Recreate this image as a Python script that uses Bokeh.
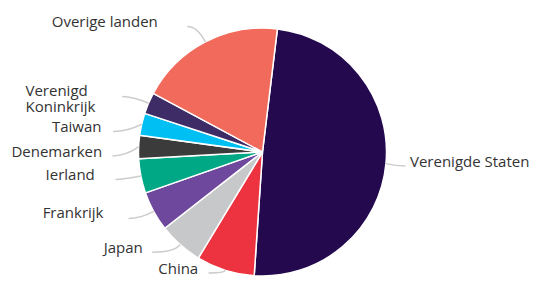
import math
from bokeh.plotting import figure
from bokeh.models import Range1d, ColumnDataSource
from bokeh.embed import file_html
from bokeh.resources import INLINE
from bokeh.core.properties import value

# ---- data ----
countries = ["Verenigde Staten", "China", "Japan", "Frankrijk", "Ierland",
             "Denemarken", "Taiwan", "Verenigd Koninkrijk", "Overige landen"]
shares = [49.2, 7.6, 5.8, 5.2, 4.5, 3.0, 2.9, 2.8, 19.1]
colors = ["#24094e", "#ee3340", "#c7c8c9", "#6e489d", "#00a886",
          "#3b3b3b", "#00bff3", "#3e2c66", "#f26a5b"]

# ---- layout (pixels of the picture, y from top) ----
W, H = 530, 279
CX, CY, R = 262.0, 151.5, 124.0
START_DEG = 6.9
FONT_SIZE = "15px"
# (text x, text middle y, align, connector start x, connector start y, wrap)
label_layout = [
    (409.5, 160.5, "left", 405.0, 165.5, False),
    (197.7, 267.5, "right", 208.0, 272.5, False),
    (142.3, 246.5, "right", 151.7, 251.7, False),
    (103.0, 211.5, "right", 128.0, 218.0, False),
    (94.3, 173.5, "right", 115.0, 179.0, False),
    (101.7, 150.5, "right", 112.0, 155.5, False),
    (101.0, 125.5, "right", 112.7, 131.0, False),
    (25.0, 89.5, "left", 121.7, 96.0, True),
    (157.3, 20.5, "right", 186.7, 26.0, False),
]
LINE_H = 16.0
TOP = 287  # data y of the picture's top edge

def dy(sy):
    # convert picture y (from top) to data y (from bottom)
    return TOP - sy

p = figure(width=W, height=H, output_backend="svg", toolbar_location=None,
           x_range=Range1d(0, W), y_range=Range1d(TOP - H, TOP), min_border=0)
p.axis.visible = False
p.grid.visible = False
p.outline_line_color = None
p.background_fill_color = "white"
p.border_fill_color = "white"

total = sum(shares)
starts, ends, mids = [], [], []
acc = START_DEG
for s in shares:
    a0 = acc
    a1 = acc + s / total * 360.0
    starts.append(math.radians(90 - a1))
    ends.append(math.radians(90 - a0))
    mids.append((a0 + a1) / 2)
    acc = a1

src = ColumnDataSource(dict(start=starts, end=ends, color=colors, name=countries))
p.wedge(x=CX, y=dy(CY), radius=R, start_angle="start", end_angle="end",
        fill_color="color", line_color="white", line_width=1.5, source=src)

# connectors
x0s, y0s, x1s, y1s, cxs, cys = [], [], [], [], [], []
for m, lay in zip(mids, label_layout):
    _, _, _, sx0, sy0, _ = lay
    ux, uy = math.sin(math.radians(m)), -math.cos(math.radians(m))
    ex, ey = CX + R * ux, CY + R * uy
    ctrl = None
    if abs(uy) > 0.05:
        t = (sy0 - ey) / uy
        if t > 0:
            cx = ex + t * ux
            if min(sx0, ex) <= cx <= max(sx0, ex):
                ctrl = (cx, sy0)
    if ctrl is None:
        ctrl = ((sx0 + ex) / 2, sy0)
    x0s.append(sx0); y0s.append(dy(sy0))
    x1s.append(ex); y1s.append(dy(ey))
    cxs.append(ctrl[0]); cys.append(dy(ctrl[1]))
p.quadratic(x0=x0s, y0=y0s, x1=x1s, y1=y1s, cx=cxs, cy=cys,
            line_color="#cccccc", line_width=1.5)

# labels
groups = {"left": ([], [], []), "right": ([], [], [])}
for name, lay in zip(countries, label_layout):
    tx, ty, align, _, _, wrap = lay
    lines = name.split(" ") if wrap else [name]
    for i, ln in enumerate(lines):
        groups[align][0].append(tx)
        groups[align][1].append(dy(ty + i * LINE_H))
        groups[align][2].append(ln)
for align, (xs, ys, ts) in groups.items():
    p.text(x=xs, y=ys, text=ts, text_align=align, text_baseline="middle",
           text_font=value("Open Sans"), text_font_size=FONT_SIZE,
           text_color="#333333")

open("out.html", "w").write(file_html(p, INLINE))
